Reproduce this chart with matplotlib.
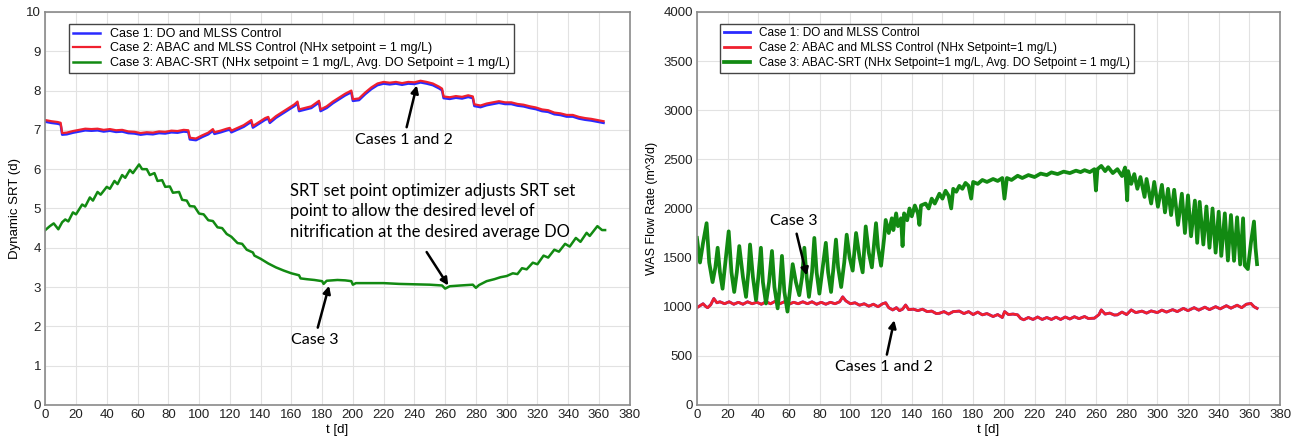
import matplotlib
matplotlib.use("Agg")
import matplotlib.pyplot as plt
import matplotlib.transforms as mtransforms

plt.rcParams['font.family'] = ['Liberation Sans', 'DejaVu Sans']

# ---- left panel: dynamic SRT (d) ----
srt_t12 = [0, 4, 8, 10, 11, 14, 18, 22, 26, 30, 34, 38, 42, 46, 50, 54, 58, 62, 66, 70,
           74, 78, 82, 86, 90, 93, 94, 98, 102, 106, 109, 110, 114, 118, 120, 121, 125,
           129, 134, 135, 139, 143, 145, 146, 150, 154, 158, 162, 164, 165, 169, 173,
           178, 179, 183, 187, 191, 195, 199, 200, 204, 208, 212, 216, 220, 224, 228,
           232, 236, 240, 244, 248, 252, 256, 258, 259, 263, 267, 271, 275, 278, 279,
           283, 287, 291, 295, 299, 303, 307, 311, 315, 319, 323, 327, 331, 335, 339,
           343, 347, 351, 355, 359, 363]
srt_case2 = [7.25, 7.22, 7.2, 7.18, 6.92, 6.93, 6.97, 7.0, 7.03, 7.02, 7.03, 7.0, 7.02,
             6.99, 7.0, 6.96, 6.95, 6.92, 6.94, 6.93, 6.96, 6.95, 6.98, 6.97, 7.0, 6.99,
             6.8, 6.78, 6.86, 6.93, 7.02, 6.94, 6.98, 7.03, 7.05, 6.98, 7.05, 7.12, 7.25,
             7.1, 7.2, 7.3, 7.33, 7.22, 7.35, 7.45, 7.55, 7.65, 7.72, 7.52, 7.56, 7.6,
             7.74, 7.52, 7.6, 7.72, 7.82, 7.92, 8.0, 7.78, 7.8, 7.95, 8.08, 8.18, 8.22,
             8.2, 8.22, 8.19, 8.22, 8.21, 8.25, 8.22, 8.18, 8.1, 8.05, 7.85, 7.83, 7.86,
             7.84, 7.88, 7.85, 7.65, 7.62, 7.67, 7.7, 7.73, 7.7, 7.7, 7.66, 7.64, 7.6,
             7.57, 7.52, 7.5, 7.44, 7.42, 7.38, 7.38, 7.33, 7.3, 7.28, 7.25, 7.22]
srt_case1 = srt_case2  # cases 1 and 2 lie on top of each other in the source

srt_t3 = [0, 3, 5.5, 8.5, 11, 13, 15, 18, 20, 24, 26, 29, 31, 34, 36, 40, 42, 45, 47, 50,
          52, 55, 57, 61, 63, 66, 68, 71, 73, 76, 78, 81, 83, 87, 89, 92, 94, 97, 100,
          103, 106, 109, 112, 115, 118, 121, 125, 128, 131, 135, 136, 140, 145, 150, 155,
          160, 165, 166, 170, 175, 180, 181, 183, 190, 195, 199, 200, 202, 210, 220, 230,
          240, 250, 258, 260, 263, 270, 278, 280, 282, 287, 292, 296, 300, 304, 307, 310,
          313, 317, 320, 324, 327, 331, 334, 338, 341, 345, 348, 352, 354, 359, 362, 364]
srt_case3 = [4.45, 4.55, 4.62, 4.47, 4.65, 4.72, 4.67, 4.9, 4.85, 5.1, 5.05, 5.28, 5.2,
             5.42, 5.35, 5.55, 5.5, 5.7, 5.62, 5.85, 5.78, 5.98, 5.9, 6.12, 6.0, 6.0, 5.85,
             5.9, 5.7, 5.72, 5.55, 5.56, 5.4, 5.42, 5.22, 5.2, 5.06, 5.05, 4.87, 4.85, 4.7,
             4.68, 4.52, 4.5, 4.35, 4.28, 4.12, 4.1, 3.95, 3.88, 3.8, 3.72, 3.6, 3.5, 3.42,
             3.35, 3.3, 3.22, 3.2, 3.18, 3.15, 3.08, 3.16, 3.18, 3.17, 3.15, 3.06, 3.1, 3.1,
             3.1, 3.08, 3.07, 3.06, 3.04, 2.96, 3.02, 3.04, 3.06, 2.98, 3.05, 3.15, 3.2,
             3.25, 3.28, 3.35, 3.33, 3.48, 3.45, 3.62, 3.58, 3.8, 3.75, 3.95, 3.9, 4.1,
             4.03, 4.25, 4.15, 4.38, 4.3, 4.55, 4.45, 4.45]

# ---- right panel: WAS flow rate (m^3/d) ----
was_t12 = [0, 2, 4, 5.9, 7, 9, 11, 13, 15, 18, 21, 24, 27, 30, 33, 36, 39, 42, 45, 48, 51,
           54, 57, 60, 63, 66, 69, 72, 75, 78, 81, 84, 87, 90, 93, 95, 97, 100, 103, 106,
           109, 112, 115, 118, 121, 123, 125, 127.6, 130, 132, 134, 136, 138, 141, 144,
           147, 150, 153, 156, 158, 161, 164, 167, 171, 174, 177, 180, 183, 186, 189, 193,
           196, 199, 200.5, 203, 206, 209, 211, 213, 216, 219, 222, 225, 228, 231, 234,
           237, 240, 243, 246, 249, 252.6, 255, 259, 262, 263.5, 266, 269, 272, 274, 277,
           280, 283, 286, 290, 293, 296, 300, 303, 306, 310, 313, 317, 320, 324, 327, 331,
           334, 338, 341, 345, 348, 352, 355, 358, 361, 363, 365]
was_case2 = [990, 1010, 1030, 1000, 990, 1020, 1083, 1040, 1050, 1030, 1050, 1025, 1045,
             1025, 1050, 1030, 1045, 1025, 1050, 1030, 1055, 1030, 1050, 1025, 1045, 1030,
             1050, 1030, 1050, 1025, 1045, 1025, 1045, 1030, 1050, 1100, 1060, 1030, 1040,
             1015, 1030, 1005, 1025, 1000, 1030, 1040, 990, 967, 990, 960, 975, 1017, 970,
             975, 960, 975, 950, 955, 930, 933, 950, 925, 950, 955, 930, 950, 920, 945, 917,
             930, 900, 920, 890, 950, 920, 925, 917, 880, 867, 890, 870, 895, 870, 890, 870,
             893, 870, 895, 875, 898, 878, 900, 880, 883, 920, 967, 925, 935, 915, 917, 945,
             920, 967, 940, 955, 935, 957, 940, 965, 945, 970, 950, 983, 960, 990, 965, 995,
             970, 1000, 978, 1010, 985, 1015, 990, 1025, 1033, 1000, 983]
was_case1 = was_case2  # hidden under case 2 in the source

was_t3 = [0, 2, 4, 6.3, 8, 10.2, 12, 13.5, 15, 16.7, 18.5, 20.7, 22.5, 24.3, 26, 27.6, 30,
          32, 33.5, 34.6, 36.5, 38.5, 40, 41.7, 43, 45, 47, 48.9, 50.5, 52.6, 54, 55.4, 57,
          59, 60.5, 62.4, 64.5, 66.7, 68.5, 70, 71.5, 73, 75, 76.5, 78, 79.8, 82, 84, 85.5,
          87.4, 89, 90.6, 92, 94, 96, 97.6, 99.5, 101.5, 103.7, 106, 108, 110, 112, 114,
          116.7, 118, 120, 122, 123, 125, 127, 128, 129.8, 131, 133, 134, 135, 137, 138.5,
          140, 142, 144, 145, 146, 149, 151, 153, 155, 158, 160, 162, 164, 165.7, 167, 169,
          171, 173, 175, 177, 178.7, 180, 183, 186, 189, 193, 196, 199, 200.4, 202, 205,
          209, 212, 216, 220, 224, 228, 231, 235, 239, 243, 247, 250, 252.6, 256, 259, 260,
          261, 263.5, 266, 268, 271, 274, 277, 279, 280.4, 281, 283, 285, 287, 289, 291.7,
          293, 296, 298, 300.4, 303, 305, 307, 309, 311, 313.5, 316, 318, 320, 322, 324.5,
          326, 327.6, 330, 332, 334, 336, 338, 340, 341.7, 344, 346, 348, 350, 352, 354,
          355.9, 357, 359, 361, 363, 364, 365]
was_case3 = [1700, 1450, 1650, 1850, 1450, 1250, 1400, 1600, 1350, 1183, 1450, 1767, 1350,
             1150, 1350, 1617, 1300, 1100, 1350, 1633, 1300, 1067, 1300, 1600, 1250, 1033,
             1250, 1567, 1200, 983, 1200, 1517, 1150, 950, 1150, 1433, 1250, 1117, 1300,
             1600, 1300, 1100, 1350, 1700, 1350, 1133, 1400, 1650, 1350, 1150, 1400, 1683,
             1400, 1200, 1450, 1733, 1500, 1367, 1750, 1500, 1350, 1817, 1550, 1400, 1850,
             1600, 1417, 1700, 1883, 1750, 1900, 1780, 1950, 1820, 1900, 1617, 1950, 1880,
             2000, 1920, 2030, 1950, 1833, 2030, 2050, 2000, 2100, 2050, 2150, 2100, 2180,
             2130, 2000, 2200, 2170, 2230, 2200, 2260, 2230, 2100, 2270, 2250, 2290, 2270,
             2300, 2280, 2310, 2100, 2310, 2290, 2333, 2310, 2340, 2320, 2355, 2340, 2367,
             2350, 2375, 2360, 2385, 2370, 2390, 2370, 2400, 2183, 2400, 2433, 2380, 2420,
             2360, 2400, 2330, 2417, 2083, 2380, 2250, 2350, 2200, 2320, 2117, 2300, 2050,
             2270, 2017, 2240, 1960, 2200, 1933, 2190, 1833, 2150, 1750, 2133, 1717, 2080,
             1650, 2067, 1633, 2020, 1600, 2000, 1550, 1967, 1517, 1950, 1470, 1933, 1467,
             1910, 1430, 1900, 1420, 1383, 1650, 1867, 1600, 1433]

labels_left = ["Case 1: DO and MLSS Control",
               "Case 2: ABAC and MLSS Control (NHx setpoint = 1 mg/L)",
               "Case 3: ABAC-SRT (NHx setpoint = 1 mg/L, Avg. DO Setpoint = 1 mg/L)"]
labels_right = ["Case 1: DO and MLSS Control",
                "Case 2: ABAC and MLSS Control (NHx Setpoint=1 mg/L)",
                "Case 3: ABAC-SRT (NHx Setpoint=1 mg/L, Avg. DO Setpoint = 1 mg/L)"]
xticks = list(range(0, 381, 20))

c_blue, c_red, c_green = "#2a2aff", "#f0202e", "#128a12"
note_font = ['Lato', 'DejaVu Sans']

fig = plt.figure(figsize=(12.93, 4.44), dpi=100)
ax1 = fig.add_axes([0.035, 0.088, 0.452, 0.885])
ax2 = fig.add_axes([0.539, 0.088, 0.451, 0.885])


def style(ax, ymax, ystep):
    ax.set_xlim(0, 380)
    ax.set_ylim(0, ymax)
    ax.set_xticks(xticks)
    ax.set_yticks(list(range(0, ymax + 1, ystep)))
    ax.grid(True, color="#e2e2e2", lw=0.8)
    ax.set_axisbelow(True)
    ax.tick_params(length=0, labelsize=9.5, pad=3, colors="#222222")
    for s in ax.spines.values():
        s.set_color("#8a8a8a")
        s.set_linewidth(1.2)
    ax.set_xlabel("t [d]", fontsize=9.5, labelpad=2)


# left panel
shift = mtransforms.ScaledTranslation(0, -1.2 / 72, fig.dpi_scale_trans)
ax1.plot(srt_t12, srt_case1, color=c_blue, lw=1.8, label=labels_left[0],
         transform=ax1.transData + shift)
ax1.plot(srt_t12, srt_case2, color=c_red, lw=1.6, label=labels_left[1])
ax1.plot(srt_t3, srt_case3, color=c_green, lw=1.8, label=labels_left[2])
style(ax1, 10, 1)
ax1.set_ylabel("Dynamic SRT (d)", fontsize=9.5, labelpad=4)
leg = ax1.legend(loc="upper left", bbox_to_anchor=(0.03, 0.985), fontsize=9,
                 fancybox=False, edgecolor="#444444", framealpha=1,
                 borderpad=0.3, labelspacing=0.2, handlelength=2.2)
leg.get_frame().set_linewidth(1.0)

arrow = dict(arrowstyle="-|>", color="black", lw=1.8, mutation_scale=11)
ax1.annotate("Cases 1 and 2", xy=(242, 8.2), xytext=(233, 6.75), ha="center",
             va="center", fontsize=11.5, family=note_font, arrowprops=arrow)
ax1.annotate("", xy=(263, 2.98), xytext=(247, 3.95), arrowprops=arrow)
ax1.text(159, 5.65, "SRT set point optimizer adjusts SRT set\npoint to allow the desired level of\n"
         "nitrification at the desired average DO", ha="left", va="top", fontsize=12,
         family=note_font, linespacing=1.35)
ax1.annotate("Case 3", xy=(185, 3.1), xytext=(175, 1.65), ha="center", va="center",
             fontsize=11.5, family=note_font, arrowprops=arrow)

# right panel
ax2.plot(was_t12, was_case1, color=c_blue, lw=2.0, label=labels_right[0])
ax2.plot(was_t12, was_case2, color=c_red, lw=2.0, label=labels_right[1])
ax2.plot(was_t3, was_case3, color=c_green, lw=2.7, label=labels_right[2])
style(ax2, 4000, 500)
ax2.set_ylabel("WAS Flow Rate (m^3/d)", fontsize=9, labelpad=4)
leg = ax2.legend(loc="upper left", bbox_to_anchor=(0.03, 0.985), fontsize=8.5,
                 fancybox=False, edgecolor="#444444", framealpha=1,
                 borderpad=0.3, labelspacing=0.25, handlelength=2.2)
leg.get_frame().set_linewidth(1.0)
ax2.annotate("Case 3", xy=(72, 1290), xytext=(63, 1870), ha="center", va="center",
             fontsize=11.5, family=note_font, arrowprops=arrow)
ax2.annotate("Cases 1 and 2", xy=(129, 890), xytext=(122, 385), ha="center",
             va="center", fontsize=11.5, family=note_font, arrowprops=arrow)

fig.savefig("out.png", dpi=100)
